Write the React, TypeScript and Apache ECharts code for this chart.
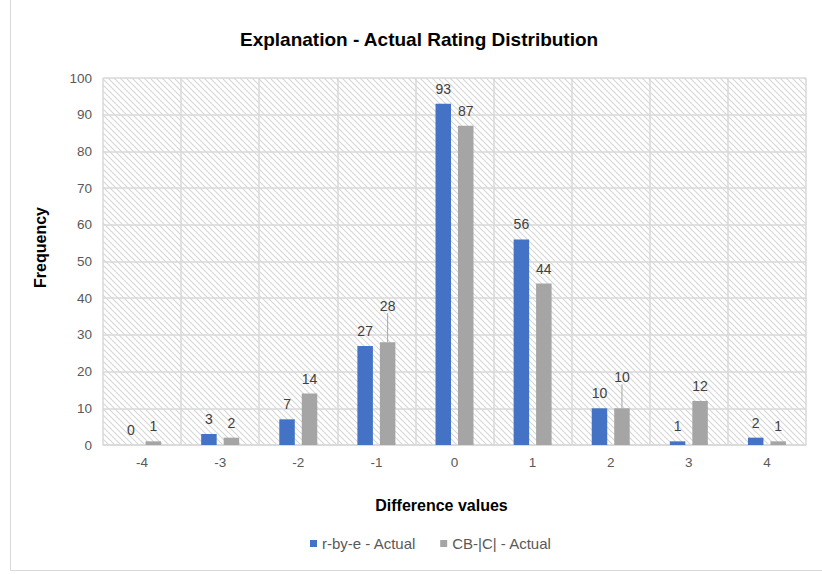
import React, { useEffect, useRef } from "react";
import * as echarts from "echarts";

const categories = ["-4", "-3", "-2", "-1", "0", "1", "2", "3", "4"];
const rByE = [0, 3, 7, 27, 93, 56, 10, 1, 2];
const cbC = [1, 2, 14, 28, 87, 44, 10, 12, 1];
const seriesNames = ["r-by-e - Actual", "CB-|C| - Actual"];
const titleText = "Explanation - Actual Rating Distribution";
const xName = "Difference values";
const yName = "Frequency";

const hatchSvg =
  "<svg xmlns='http://www.w3.org/2000/svg' width='6' height='6'>" +
  "<rect width='6' height='6' fill='white'/>" +
  "<path d='M-1,-1 L7,7 M-1,5 L1,7 M5,-1 L7,1' stroke='#d6d6d6' stroke-width='1.1'/></svg>";
const hatchUrl = "data:image/svg+xml;charset=utf-8," + encodeURIComponent(hatchSvg);

export default function App() {
  const ref = useRef<HTMLDivElement>(null);
  useEffect(() => {
    if (!ref.current) return;
    const chart = echarts.init(ref.current, null, { renderer: "svg" });
    const font = "Liberation Sans, Arial, sans-serif";
    const labelBase = {
      show: true,
      position: "top" as const,
      distance: 8,
      color: "#404040",
      fontSize: 14,
      fontFamily: font,
    };
    chart.setOption({
      animation: false,
      textStyle: { fontFamily: font },
      title: {
        text: titleText,
        left: 235,
        top: 25,
        textStyle: { fontSize: 19, fontWeight: "bold", color: "#000", fontFamily: font },
      },
      legend: {
        bottom: 23,
        left: 310,
        padding: 0,
        icon: "rect",
        itemWidth: 7,
        itemHeight: 7,
        itemGap: 24,
        textStyle: { fontSize: 15, color: "#595959", fontFamily: font },
        data: seriesNames,
      },
      graphic: [
        {
          type: "rect",
          shape: { x: 10.5, y: -10, width: 900, height: 580.5 },
          style: { fill: "none", stroke: "#d9d9d9", lineWidth: 1 },
          silent: true,
        },
      ],
      grid: {
        left: 103,
        right: 16,
        top: 78,
        bottom: 129,
        show: true,
        borderWidth: 0,
        backgroundColor: {
          image: hatchUrl,
          repeat: "repeat",
          imageWidth: 6,
          imageHeight: 6,
        },
      },
      xAxis: {
        type: "category",
        data: categories,
        name: xName,
        nameLocation: "middle",
        nameGap: 52,
        nameTextStyle: {
          fontSize: 16,
          fontWeight: "bold",
          color: "#000",
          fontFamily: font,
          padding: [0, 26, 0, 0],
        },
        axisLine: { lineStyle: { color: "#d9d9d9", width: 1.5 } },
        axisTick: { show: false },
        axisLabel: { color: "#595959", fontSize: 13.5, margin: 10, fontFamily: font },
        splitLine: { show: true, interval: 0, lineStyle: { color: "#d9d9d9", width: 1.5 } },
      },
      yAxis: {
        type: "value",
        min: 0,
        max: 100,
        interval: 10,
        name: yName,
        nameLocation: "middle",
        nameGap: 55,
        nameTextStyle: {
          fontSize: 16,
          fontWeight: "bold",
          color: "#000",
          fontFamily: font,
          padding: [0, 0, 0, 28],
        },
        axisLine: { show: false },
        axisTick: { show: false },
        axisLabel: { color: "#595959", fontSize: 13.5, margin: 11, fontFamily: font },
        splitLine: { lineStyle: { color: "#d9d9d9", width: 1.5 } },
      },
      series: [
        {
          name: seriesNames[0],
          type: "bar",
          data: rByE,
          barWidth: 15.5,
          barGap: "45%",
          itemStyle: { color: "#4472C4" },
          label: labelBase,
        },
        {
          name: seriesNames[1],
          type: "bar",
          data: cbC.map((v, i) =>
            i === 3 || i === 6
              ? { value: v, labelLine: { show: true, lineStyle: { color: "#a6a6a6", width: 1 } } }
              : v
          ),
          barWidth: 15.5,
          itemStyle: { color: "#A5A5A5" },
          label: labelBase,
          labelLine: { show: false, lineStyle: { color: "#a6a6a6", width: 1 } },
          labelLayout: (p: any) => {
            if (p.dataIndex === 3) return { dy: -21 };
            if (p.dataIndex === 6) return { dy: -16 };
            return {};
          },
        },
      ],
    });
    return () => chart.dispose();
  }, []);
  return (
    <div
      ref={ref}
      style={{ position: "absolute", left: 0, top: 0, width: 822, height: 574, background: "#fff" }}
    />
  );
}
